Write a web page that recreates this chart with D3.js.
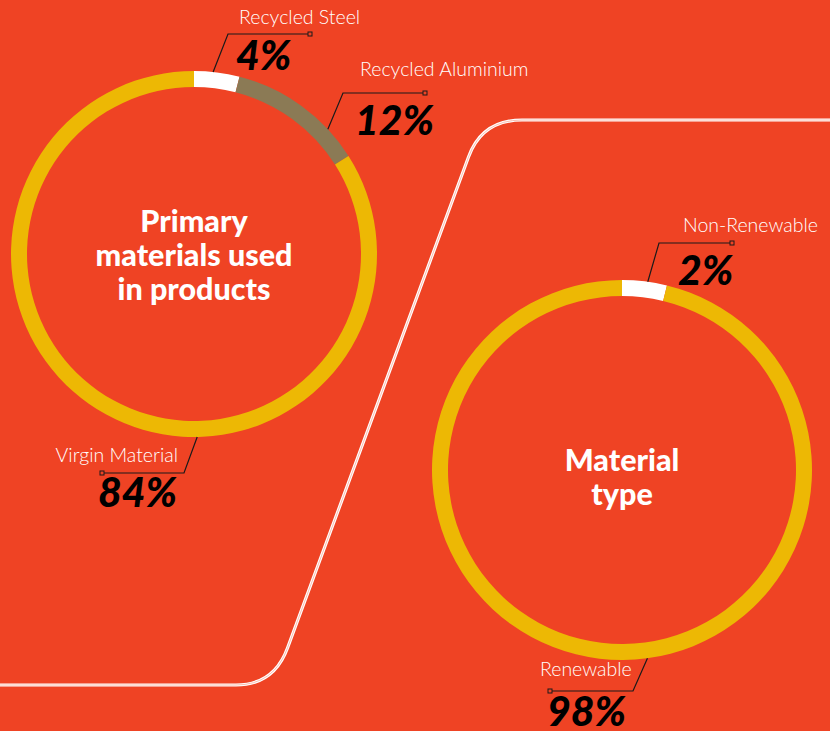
<!DOCTYPE html>
<html>
<head>
<meta charset="utf-8">
<script src="https://cdn.jsdelivr.net/npm/d3@7"></script>
<style>
  html, body { margin: 0; padding: 0; background: #ef4324; }
  svg { display: block; }
  .ring-title { font-family: Lato, sans-serif; font-weight: 900; fill: #fff; }
  .slice-name { font-family: Lato, sans-serif; font-weight: 300; fill: #fff; }
  .slice-pct { font-family: Lato, sans-serif; font-weight: 900; font-style: italic; fill: #000; }
  .leader { fill: none; stroke: #1a1a1a; stroke-width: 1.2; }
</style>
</head>
<body>
<div id="chart"></div>
<script>
// Left ring - primary materials
const materialNames = ['Recycled Steel', 'Recycled Aluminium', 'Virgin Material']
const materialShares = [4, 12, 84]
const materialLabels = ['4%', '12%', '84%']

// Right ring - material type
const typeNames = ['Non-Renewable', 'Renewable']
// white slice is drawn a bit wider than 2% in the original artwork
const typeShares = [3.8, 96.2]
const typeLabels = ['2%', '98%']

const leftTitle = ['Primary', 'materials used', 'in products']
const rightTitle = ['Material', 'type']

// Vars for dimensions
const width = 830
const height = 731
const bg = '#ef4324'

const svg = d3.select('#chart')
  .append('svg')
  .attr('width', width)
  .attr('height', height)

svg.append('rect')
  .attr('width', width)
  .attr('height', height)
  .attr('fill', bg)

// Divider - white double line with rounded corners
const divider = 'M0,685 H236 Q274,685 287.5,648 L468.5,157 Q482,120 522,120 H830'
svg.append('path').attr('d', divider)
  .attr('fill', 'none').attr('stroke', '#fff').attr('stroke-width', 3.2)
svg.append('path').attr('d', divider)
  .attr('fill', 'none').attr('stroke', '#f7ad9c').attr('stroke-width', 0.8)

const pie = d3.pie().sort(null).value(d => d)

const drawRing = (opts) => {
  const { cx, cy, outer, thick, shares, colors, names, labels, title, titleY, layout } = opts
  const g = svg.append('g').attr('transform', `translate(${cx},${cy})`)
  const arc = d3.arc().innerRadius(outer - thick).outerRadius(outer)

  g.selectAll('path.slice')
    .data(pie(shares))
    .join('path')
    .attr('class', 'slice')
    .attr('d', arc)
    .attr('fill', (d, i) => colors[i])

  // Center title
  g.selectAll('text.ring-title')
    .data(title)
    .join('text')
    .attr('class', 'ring-title')
    .attr('text-anchor', 'middle')
    .attr('font-size', 30.5)
    .attr('y', (d, i) => titleY + i * 34)
    .text(d => d)

  // Leader lines + labels (layout in page coords)
  layout.forEach((l, i) => {
    const p = d3.pointRadial(l.angle * Math.PI / 180, outer)
    const start = [cx + p[0], cy + p[1]]
    svg.append('path')
      .attr('class', 'leader')
      .attr('d', `M${start[0]},${start[1]} L${l.elbow[0]},${l.elbow[1]} H${l.endX}`)
    svg.append('rect')
      .attr('x', l.endX - 2).attr('y', l.elbow[1] - 2)
      .attr('width', 4).attr('height', 4)
      .attr('fill', bg).attr('stroke', '#1a1a1a').attr('stroke-width', 1)

    svg.append('text')
      .attr('class', 'slice-name')
      .attr('font-size', 19.5)
      .attr('text-anchor', l.nameAnchor)
      .attr('x', l.name[0]).attr('y', l.name[1])
      .text(names[i])

    svg.append('text')
      .attr('class', 'slice-pct')
      .attr('font-size', 41)
      .attr('x', l.pct[0]).attr('y', l.pct[1])
      .text(labels[i])
  })
}

drawRing({
  cx: 194, cy: 254, outer: 183, thick: 16,
  shares: materialShares,
  colors: ['#ffffff', '#8b7a55', '#edb804'],
  names: materialNames,
  labels: materialLabels,
  title: leftTitle,
  titleY: -22,
  layout: [
    { angle: 6, elbow: [228, 34], endX: 310, name: [239, 24], nameAnchor: 'start', pct: [236, 70] },
    { angle: 47, elbow: [343, 93], endX: 425, name: [360, 76], nameAnchor: 'start', pct: [355, 135] },
    { angle: 179, elbow: [184, 473], endX: 102, name: [178, 462], nameAnchor: 'end', pct: [98, 507] }
  ]
})

drawRing({
  cx: 622, cy: 470, outer: 190, thick: 16,
  shares: typeShares,
  colors: ['#ffffff', '#edb804'],
  names: typeNames,
  labels: typeLabels,
  title: rightTitle,
  titleY: 1,
  layout: [
    { angle: 7.8, elbow: [659, 243], endX: 732, name: [683, 232], nameAnchor: 'start', pct: [678, 285] },
    { angle: 172.3, elbow: [633, 691], endX: 550, name: [540, 676], nameAnchor: 'start', pct: [547, 726] }
  ]
})
</script>
</body>
</html>
